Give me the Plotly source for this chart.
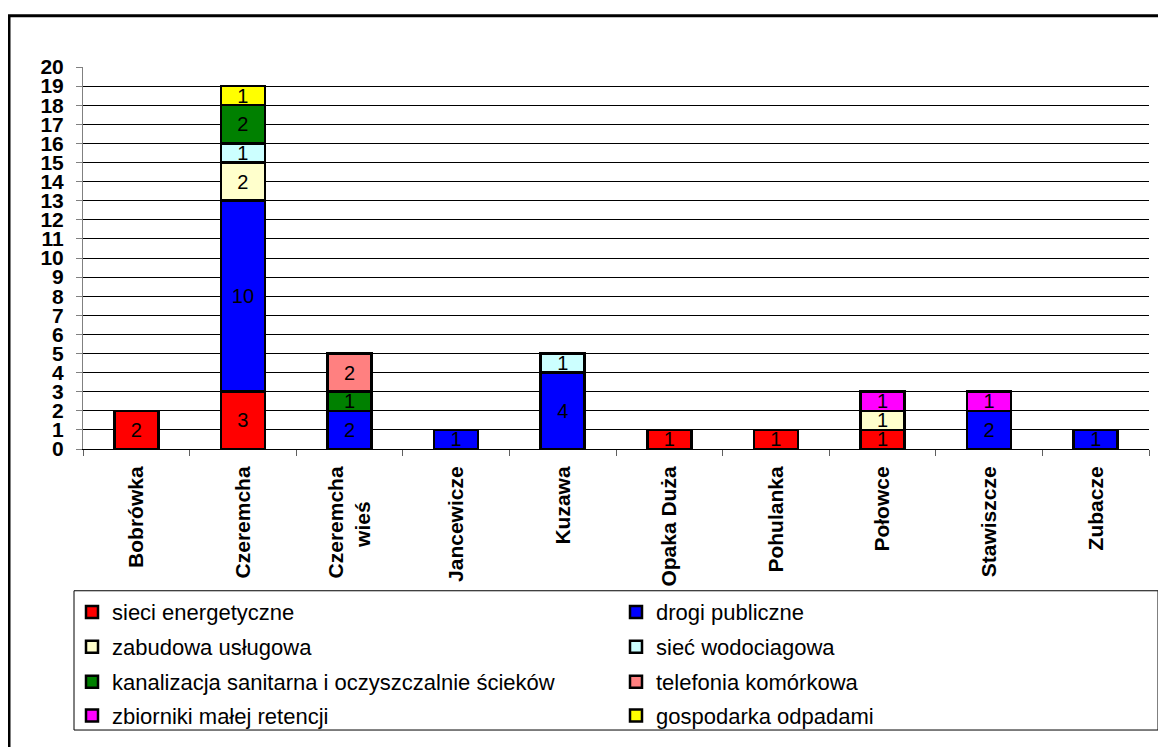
import plotly.graph_objects as go

NB = "\u00a0"
categories = ["Bobrówka", "Czeremcha", "Czeremcha<br>wieś" + NB * 6, "Jancewicze", "Kuzawa",
              "Opaka Duża", "Pohulanka", "Połowce", "Stawiszcze", "Zubacze"]

series_names = ["sieci energetyczne", "drogi publiczne", "zabudowa usługowa",
                "sieć wodociagowa", "kanalizacja sanitarna i oczyszczalnie ścieków",
                "telefonia komórkowa", "zbiorniki małej retencji", "gospodarka odpadami"]

sieci_energetyczne = [2, 3, None, None, None, 1, 1, 1, None, None]
drogi_publiczne = [None, 10, 2, 1, 4, None, None, None, 2, 1]
zabudowa_uslugowa = [None, 2, None, None, None, None, None, 1, None, None]
siec_wodociagowa = [None, 1, None, None, 1, None, None, None, None, None]
kanalizacja = [None, 2, 1, None, None, None, None, None, None, None]
telefonia = [None, None, 2, None, None, None, None, None, None, None]
zbiorniki = [None, None, None, None, None, None, None, 1, 1, None]
gospodarka = [None, 1, None, None, None, None, None, None, None, None]

series_values = [sieci_energetyczne, drogi_publiczne, zabudowa_uslugowa, siec_wodociagowa,
                 kanalizacja, telefonia, zbiorniki, gospodarka]
colors = ["#FF0000", "#0000FF", "#FFFFCC", "#CCFFFF", "#008000", "#FF8080", "#FF00FF", "#FFFF00"]

y_ticks = list(range(0, 21))

FONT = "Arial, Liberation Sans, sans-serif"

# figure is drawn inside a page body with an 8px margin: work in figure pixels
OFF = 8
W, H = 1166 - OFF, 747 - OFF
L = 83 - OFF
R = W - (1149 - OFF)
T = 66.5 - OFF
B = H - (450.5 - OFF)
pw, ph = W - L - R, H - T - B


def px2x(px):
    return (px - OFF - L) / pw


def py2y(py):
    return (H - B - (py - OFF)) / ph


legend_ids = ["legend", "legend", "legend2", "legend2", "legend3", "legend3", "legend4", "legend4"]
row_centers = [613, 648, 683, 717]

fig = go.Figure()
for name, vals, col, lg in zip(series_names, series_values, colors, legend_ids):
    fig.add_trace(go.Bar(
        x=categories, y=vals, name=name, legend=lg,
        marker=dict(color=col, line=dict(color="black", width=2.5)),
        text=[("" if v is None else str(v)) for v in vals],
        textposition="inside", insidetextanchor="middle",
        constraintext="none", textangle=0,
        insidetextfont=dict(family=FONT, size=20, color="black"),
    ))

legend_common = dict(
    orientation="h", traceorder="normal",
    x=px2x(72), xanchor="left", yanchor="middle",
    entrywidth=499, entrywidthmode="pixels",
    font=dict(family=FONT, size=22, color="black"),
    borderwidth=0, bgcolor="rgba(0,0,0,0)",
    itemwidth=30,
)

fig.update_layout(
    width=W, height=H,
    margin=dict(l=L, r=R, t=T, b=B, pad=0),
    barmode="stack", bargap=0.587,
    paper_bgcolor="white", plot_bgcolor="white",
    font=dict(family=FONT, color="black"),
    showlegend=True,
    legend=dict(legend_common, y=py2y(row_centers[0])),
    legend2=dict(legend_common, y=py2y(row_centers[1])),
    legend3=dict(legend_common, y=py2y(row_centers[2])),
    legend4=dict(legend_common, y=py2y(row_centers[3])),
    xaxis=dict(
        type="category", tickangle=-90, tickson="boundaries",
        ticks="outside", ticklen=6, tickcolor="#606060",
        showline=True, linecolor="black", linewidth=1,
        ticklabelstandoff=8,
        tickfont=dict(family=FONT, size=21, color="black", weight="bold"),
        showgrid=False,
    ),
    yaxis=dict(
        range=[0, 20], tickvals=y_ticks, ticktext=[str(v) for v in y_ticks],
        ticks="outside", ticklen=6, tickcolor="#808080",
        showline=True, linecolor="#808080", linewidth=1,
        showgrid=True, gridcolor="black", gridwidth=1,
        ticklabelstandoff=8,
        tickfont=dict(family=FONT, size=21, color="black", weight="bold"),
        zeroline=False,
    ),
    shapes=[
        dict(type="rect", xref="paper", yref="paper",
             x0=px2x(9), x1=px2x(1185), y0=py2y(770), y1=py2y(15),
             line=dict(color="black", width=3), fillcolor="rgba(0,0,0,0)", layer="above"),
        dict(type="rect", xref="paper", yref="paper",
             x0=px2x(74), x1=px2x(1158), y0=py2y(733), y1=py2y(593),
             line=dict(color="black", width=1), fillcolor="rgba(0,0,0,0)", layer="above"),
    ],
)

fig.write_html("out.html")
